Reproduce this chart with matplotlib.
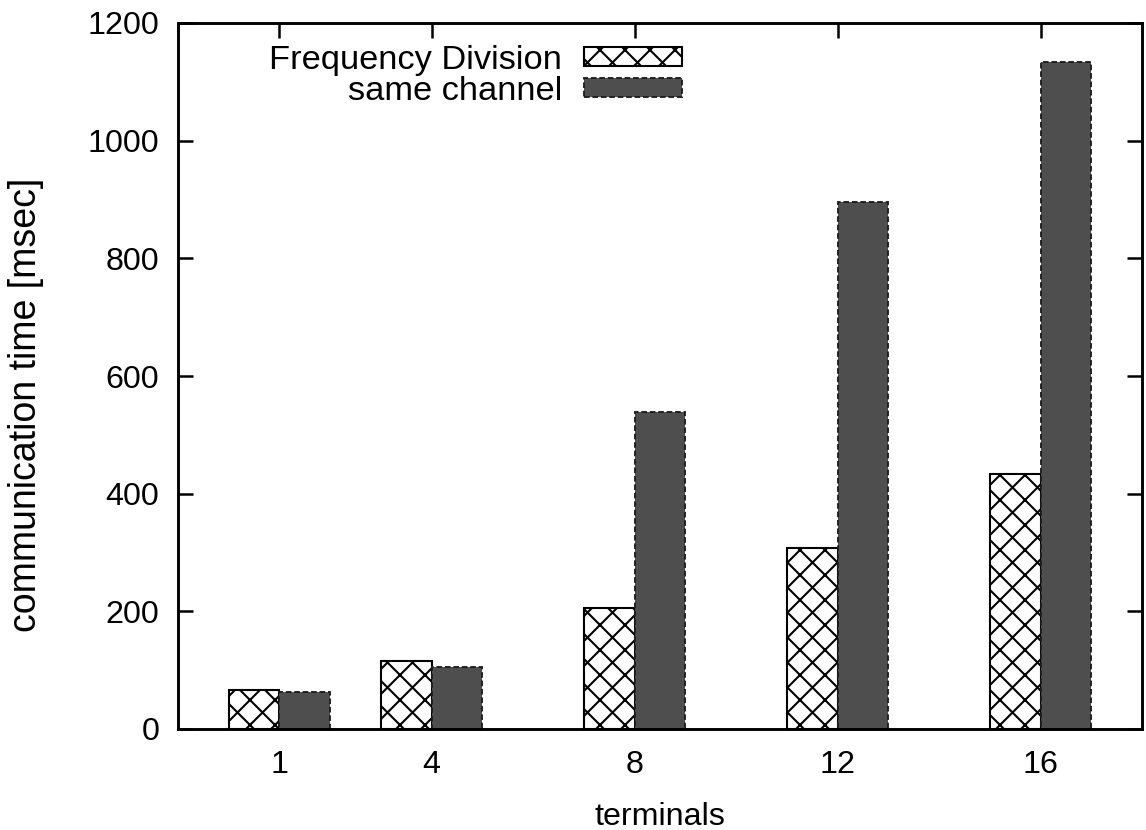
import matplotlib
matplotlib.use("Agg")
import matplotlib.pyplot as plt
from matplotlib.patches import Patch

terminals = [1, 4, 8, 12, 16]
freq_division = [66, 116, 206, 308, 434]
same_channel = [63, 105, 539, 896, 1134]
series_labels = ["Frequency Division", "same channel"]
y_ticks = [0, 200, 400, 600, 800, 1000, 1200]

plt.rcParams['font.family'] = ['Liberation Sans', 'DejaVu Sans']
plt.rcParams['hatch.linewidth'] = 1.0

DPI = 150
fig = plt.figure(figsize=(1146 / DPI, 830 / DPI), dpi=DPI)
ax = fig.add_axes([178 / 1146, 1 - 729 / 830, (1142 - 178) / 1146, (729 - 23) / 830])

dark = '#4e4e4e'
edge_dark = '#1e1e1e'
dash = (0, (3, 1.5))
# hatched bars sit left of each tick, dark bars right of it
ax.bar(terminals, freq_division, width=-1.0, align='edge', color='white',
       edgecolor='black', hatch='xx', linewidth=1.0, zorder=2)
ax.bar(terminals, same_channel, width=1.0, align='edge', color=dark,
       edgecolor=edge_dark, linestyle=dash, linewidth=0.9, zorder=2)

ax.set_xlim(-1, 18)
ax.set_ylim(0, 1200)
ax.set_xticks(terminals)
ax.set_yticks(y_ticks)
ax.set_axisbelow(True)
ax.tick_params(axis='both', direction='in', length=7, width=1.2,
               labelsize=15.5, top=True, right=True)
ax.tick_params(axis='x', pad=10)
ax.tick_params(axis='y', pad=9)
for s in ax.spines.values():
    s.set_linewidth(1.4)

ax.set_xlabel('terminals', fontsize=15.5, labelpad=10.5)
ax.set_ylabel('communication time [msec]', fontsize=18)
ax.yaxis.set_label_coords(-0.139, 0.459)

handles = [Patch(facecolor='white', edgecolor='black', hatch='xx', linewidth=1.0),
           Patch(facecolor=dark, edgecolor=edge_dark, linestyle=dash, linewidth=0.9)]
ax.legend(handles, series_labels, loc='upper right', bbox_to_anchor=(0.523, 0.969),
          frameon=False, markerfirst=False, handlelength=2.85, handleheight=0.5,
          borderpad=0, borderaxespad=0, labelspacing=0.0, handletextpad=0.65,
          fontsize=16.5)

fig.savefig('out.png', dpi=DPI)
